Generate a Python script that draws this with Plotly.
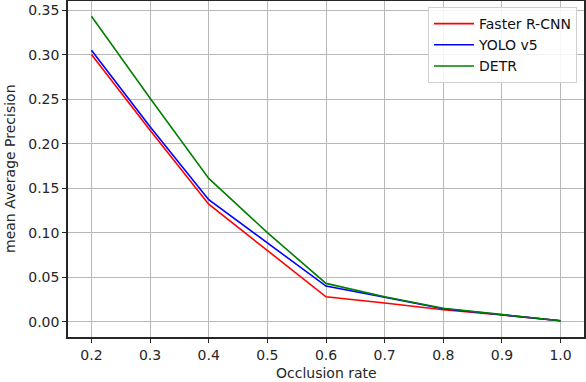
import plotly.graph_objects as go

occlusion = [0.2, 0.3, 0.4, 0.5, 0.6, 0.7, 0.8, 0.9, 1.0]
faster_rcnn = [0.300, 0.215, 0.132, 0.080, 0.028, 0.021, 0.0135, 0.0075, 0.001]
yolo_v5 = [0.305, 0.219, 0.137, 0.089, 0.040, 0.0275, 0.0145, 0.0078, 0.001]
detr = [0.343, 0.251, 0.161, 0.100, 0.043, 0.028, 0.015, 0.008, 0.001]
x_ticks = [0.2, 0.3, 0.4, 0.5, 0.6, 0.7, 0.8, 0.9, 1.0]
y_ticks = [0.00, 0.05, 0.10, 0.15, 0.20, 0.25, 0.30, 0.35]

series = [("Faster R-CNN", faster_rcnn, "#ff0000"),
          ("YOLO v5", yolo_v5, "#0000ff"),
          ("DETR", detr, "#008000")]

fig = go.Figure()
for name, vals, col in series:
    fig.add_trace(go.Scatter(x=occlusion, y=vals, mode="lines", name=name,
                             line=dict(color=col, width=1.6)))

font = dict(family="DejaVu Sans", size=14, color="#262626")
axis_common = dict(showgrid=True, gridcolor="#b8b8b8", gridwidth=1.2,
                   showline=True, linecolor="#262626", linewidth=1.5, mirror=True,
                   ticks="outside", ticklen=4, tickcolor="#262626", tickwidth=1.2,
                   zeroline=False, tickfont=font, automargin=False)
fig.update_xaxes(range=[0.16, 1.04], tickvals=x_ticks,
                 ticktext=[f"{v:.1f}" for v in x_ticks], **axis_common)
fig.update_yaxes(range=[-0.0172, 0.3602], tickvals=y_ticks,
                 ticktext=[f"{v:.2f}" for v in y_ticks], **axis_common)

L, R, T, B = 68, 2, 1, 45
pw, ph = 586 - L - R, 382 - T - B

fig.update_layout(
    width=586, height=382,
    margin=dict(l=L, r=R, t=T, b=B, autoexpand=False),
    paper_bgcolor="white", plot_bgcolor="white",
    font=font,
    showlegend=True,
    legend=dict(x=(577 - L) / pw, y=1 - (7 - T) / ph, xanchor="right", yanchor="top",
                itemwidth=40,
                bgcolor="rgba(255,255,255,0.85)", bordercolor="#d0d0d0", borderwidth=1,
                font=dict(family="DejaVu Sans", size=14, color="#111111")),
    annotations=[
        dict(text="Occlusion rate", xref="paper", yref="paper",
             x=(326 - L) / pw, y=-(373 - (382 - B)) / ph, xanchor="center", yanchor="middle",
             showarrow=False, font=font),
        dict(text="mean Average Precision", xref="paper", yref="paper",
             x=-(L - 10) / pw, y=(1 - (169 - T) / ph), xanchor="center", yanchor="middle",
             textangle=-90, showarrow=False, font=font),
    ],
)
fig.write_html("out.html", config={"displayModeBar": False},
               post_script="document.body.style.margin='0';")
